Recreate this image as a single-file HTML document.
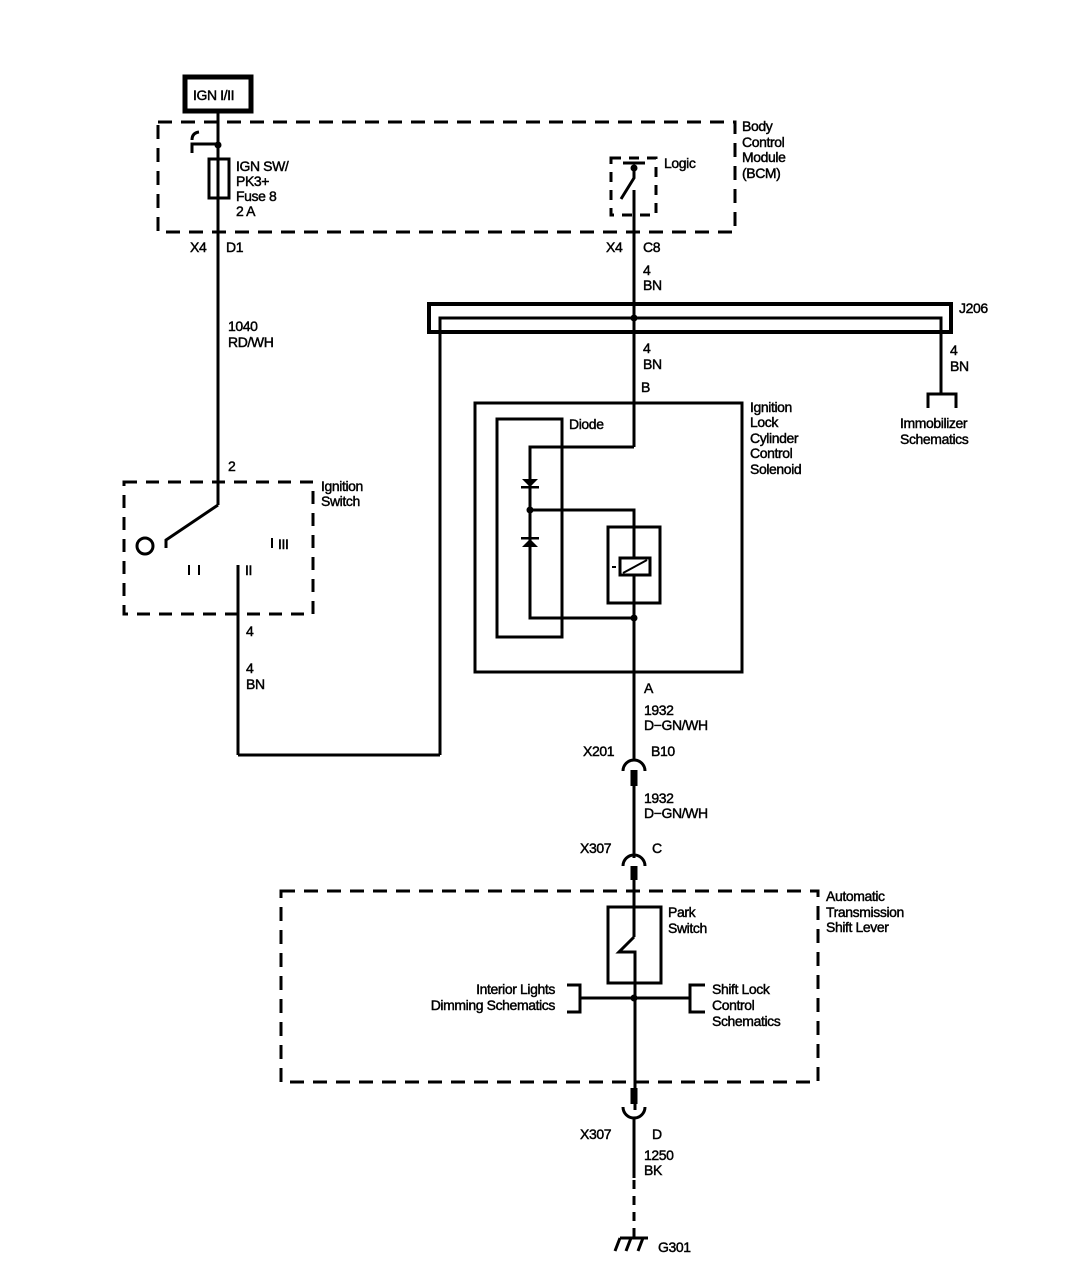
<!DOCTYPE html>
<html><head><meta charset="utf-8"><style>
html,body{margin:0;padding:0;background:#fff}
svg{display:block}
text{font-family:"Liberation Sans",Arial,sans-serif;font-size:14px;fill:#000;stroke:#000;stroke-width:0.45;letter-spacing:-0.4px}
</style></head><body>
<svg width="1088" height="1280" viewBox="0 0 1088 1280" xmlns="http://www.w3.org/2000/svg">
<g fill="none" stroke="#000" stroke-width="3">
<rect x="185" y="77" width="66" height="34" stroke-width="5"/>
<rect x="158" y="122" width="577" height="110" stroke-dasharray="14,9"/>
<line x1="218" y1="112" x2="218" y2="505"/>
<path d="M192,153 V144 H218"/>
<path d="M192,140 Q192,133 199,132"/>
<rect x="209" y="159" width="20" height="39"/>
<rect x="611" y="158" width="45" height="57" stroke-dasharray="10,8"/>
<line x1="623" y1="163" x2="645" y2="163"/>
<path d="M634,168 V178 L621,199"/>
<line x1="634" y1="190" x2="634" y2="447"/>
<rect x="429" y="304" width="522" height="28" stroke-width="4"/>
<path d="M440,755 V318 H941 V394"/>
<path d="M928,408 V394 H956 V408"/>
<rect x="475" y="403" width="267" height="269"/>
<rect x="497" y="419" width="65" height="218"/>
<path d="M634,447 H530 V618 H634"/>
<path d="M530,510 H634 V527"/>
<rect x="608" y="527" width="52" height="76"/>
<rect x="620" y="558" width="30" height="17"/>
<line x1="623" y1="573" x2="647" y2="560" stroke-width="2"/>
<line x1="634" y1="527" x2="634" y2="558"/>
<line x1="634" y1="575" x2="634" y2="760"/>
<line x1="612" y1="567" x2="616" y2="567" stroke-width="2"/>
<rect x="124" y="482" width="189" height="132" stroke-dasharray="13,9"/>
<path d="M218,505 L166,540 V548"/>
<circle cx="145" cy="546" r="8"/>
<line x1="238" y1="565" x2="238" y2="755"/>
<line x1="238" y1="755" x2="440" y2="755"/>
<line x1="189" y1="565" x2="189" y2="575" stroke-width="2"/>
<line x1="199" y1="565" x2="199" y2="575" stroke-width="2"/>
<line x1="272" y1="538" x2="272" y2="548" stroke-width="2"/>
<path d="M623,771 A11,11 0 0 1 645,771"/>
<line x1="634" y1="770" x2="634" y2="858" />
<line x1="634" y1="770" x2="634" y2="786" stroke-width="7"/>
<path d="M623,866 A11,11 0 0 1 645,866"/>
<line x1="634" y1="866" x2="634" y2="937"/>
<line x1="634" y1="866" x2="634" y2="880" stroke-width="7"/>
<rect x="281" y="891" width="537" height="191" stroke-dasharray="14,9"/>
<rect x="608" y="907" width="53" height="76"/>
<path d="M634,937 L619,952 H635 V1110"/>
<line x1="580" y1="998" x2="690" y2="998"/>
<path d="M567,985 H580 V1012 H567"/>
<path d="M705,985 H690 V1012 H705"/>
<line x1="634" y1="1088" x2="634" y2="1104" stroke-width="7"/>
<path d="M623,1107 A11,11 0 0 0 645,1107"/>
<line x1="634" y1="1118" x2="634" y2="1178"/>
<line x1="634" y1="1180" x2="634" y2="1240" stroke-dasharray="9,7"/>
<line x1="620" y1="1238" x2="648" y2="1238"/>
<path d="M620,1238 L615,1251 M631,1238 L626,1251 M643,1238 L638,1251"/>
</g>
<g fill="#000">
<circle cx="218" cy="145" r="3.5"/>
<circle cx="634" cy="168" r="3.5"/>
<circle cx="634" cy="318" r="3.5"/>
<circle cx="530" cy="510" r="3.5"/>
<circle cx="634" cy="618" r="3.5"/>
<circle cx="634" cy="998" r="3.5"/>
<polygon points="522,479 538,479 530,487"/>
<rect x="521" y="486" width="18" height="2.5"/>
<polygon points="522,547 538,547 530,539"/>
<rect x="521" y="537" width="18" height="2.5"/>
</g>
<text x="193" y="100">IGN I/II</text>
<text x="742" y="131">Body</text><text x="742" y="147">Control</text><text x="742" y="162">Module</text><text x="742" y="178">(BCM)</text>
<text x="236" y="171">IGN SW/</text><text x="236" y="186">PK3+</text><text x="236" y="201">Fuse 8</text><text x="236" y="216">2 A</text>
<text x="664" y="168">Logic</text>
<text x="190" y="252">X4</text><text x="226" y="252">D1</text>
<text x="606" y="252">X4</text><text x="643" y="252">C8</text>
<text x="643" y="275">4</text><text x="643" y="290">BN</text>
<text x="228" y="331">1040</text><text x="228" y="347">RD/WH</text>
<text x="959" y="313">J206</text>
<text x="643" y="353">4</text><text x="643" y="369">BN</text>
<text x="950" y="355">4</text><text x="950" y="371">BN</text>
<text x="900" y="428">Immobilizer</text><text x="900" y="444">Schematics</text>
<text x="641" y="392">B</text>
<text x="750" y="412">Ignition</text><text x="750" y="427">Lock</text><text x="750" y="443">Cylinder</text><text x="750" y="458">Control</text><text x="750" y="474">Solenoid</text>
<text x="569" y="429">Diode</text>
<text x="228" y="471">2</text>
<text x="321" y="491">Ignition</text><text x="321" y="506">Switch</text>
<text x="278" y="549">III</text>
<text x="245" y="575">II</text>
<text x="246" y="636">4</text>
<text x="246" y="673">4</text><text x="246" y="689">BN</text>
<text x="644" y="693">A</text>
<text x="644" y="715">1932</text><text x="644" y="730">D−GN/WH</text>
<text x="583" y="756">X201</text><text x="651" y="756">B10</text>
<text x="644" y="803">1932</text><text x="644" y="818">D−GN/WH</text>
<text x="580" y="853">X307</text><text x="652" y="853">C</text>
<text x="826" y="901">Automatic</text><text x="826" y="917">Transmission</text><text x="826" y="932">Shift Lever</text>
<text x="668" y="917">Park</text><text x="668" y="933">Switch</text>
<text x="555" y="994" text-anchor="end">Interior Lights</text>
<text x="555" y="1010" text-anchor="end">Dimming Schematics</text>
<text x="712" y="994">Shift Lock</text><text x="712" y="1010">Control</text><text x="712" y="1026">Schematics</text>
<text x="580" y="1139">X307</text><text x="652" y="1139">D</text>
<text x="644" y="1160">1250</text><text x="644" y="1175">BK</text>
<text x="658" y="1252">G301</text>
</svg>
</body></html>
